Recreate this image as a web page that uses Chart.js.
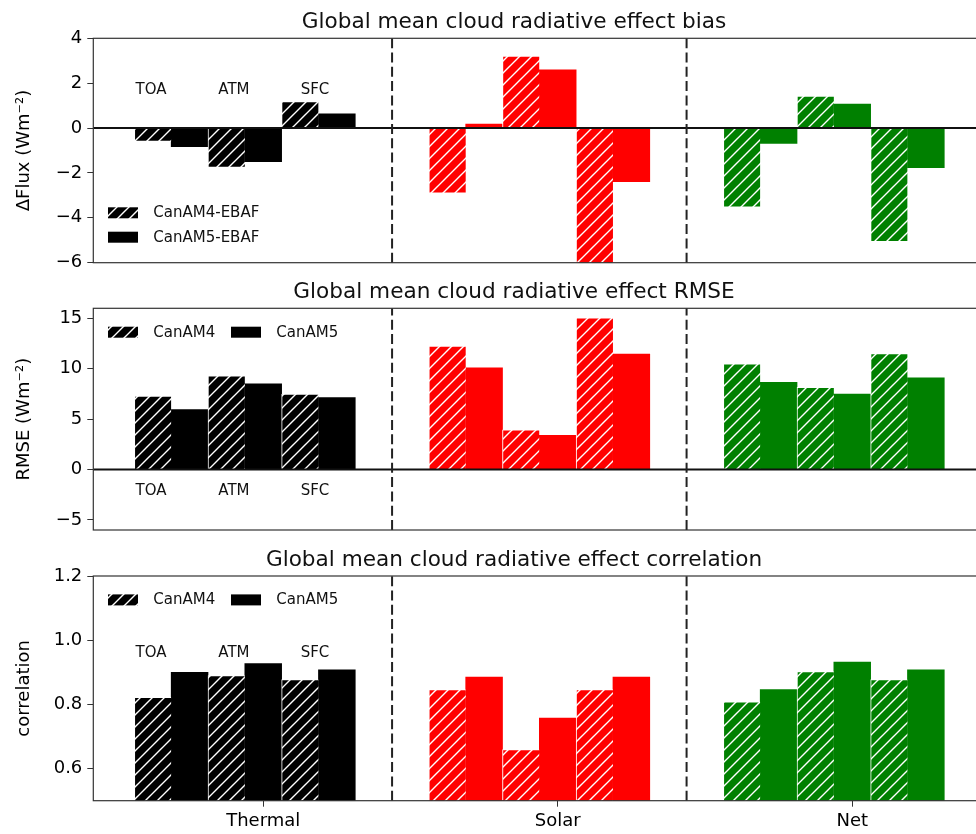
<!DOCTYPE html>
<html lang="en">
<head>
<meta charset="UTF-8" />
<title>Global mean cloud radiative effect</title>
<script src="https://cdn.jsdelivr.net/npm/chart.js"></script>
<style>
  body { margin: 0; background: #fff; }
  #wrap { position: relative; width: 976px; height: 834px; overflow: hidden; }
  #wrap canvas { position: absolute; left: 0; }
</style>
</head>
<body>
<div id="wrap">
  <canvas id="biasChart" width="1026" height="280" style="top:0"></canvas>
  <canvas id="rmseChart" width="1026" height="277" style="top:270px"></canvas>
  <canvas id="corrChart" width="1026" height="296" style="top:538px"></canvas>
</div>
<script>
const groups = ["Thermal", "Solar", "Net"];
const layers = ["TOA", "ATM", "SFC"];
const models = ["CanAM4", "CanAM5"];
const groupColors = ["#000000", "#ff0000", "#008000"];

// order: Thermal TOA/ATM/SFC, Solar TOA/ATM/SFC, Net TOA/ATM/SFC
const biasCanAM4 = [-0.6, -1.75, 1.18, -2.9, 3.21, -6.3, -3.53, 1.43, -5.06];
const biasCanAM5 = [-0.83, -1.5, 0.63, 0.18, 2.59, -2.39, -0.68, 1.07, -1.76];
const rmseCanAM4 = [7.3, 9.3, 7.5, 12.25, 3.95, 15.05, 10.5, 8.15, 11.5];
const rmseCanAM5 = [5.95, 8.5, 7.15, 10.1, 3.4, 11.45, 8.65, 7.5, 9.1];
const corrCanAM4 = [0.822, 0.89, 0.877, 0.846, 0.659, 0.846, 0.808, 0.902, 0.877];
const corrCanAM5 = [0.9, 0.927, 0.908, 0.885, 0.757, 0.885, 0.846, 0.932, 0.908];

const biasTicks = [-6, -4, -2, 0, 2, 4];
const rmseTicks = [-5, 0, 5, 10, 15];
const corrTicks = [0.6, 0.8, 1.0, 1.2];

Chart.defaults.font.family = "'DejaVu Sans', sans-serif";
Chart.defaults.font.size = 18;
Chart.defaults.color = "#000";

// x axis: group ticks at 0,1,2; each bar is 1/8 of a group
const xMin = -0.577, xMax = 2.5;
const slot = 1 / 8;
const dividerAt = 3.5 / 8;
const layerLabelX = [-0.381, -0.0995, 0.1756];
const titleX = 514;

function barX(i, m) {
  const g = Math.floor(i / 3), l = i % 3;
  return g + (2 * l + m - 3) * slot;
}

function hatch(ctx, color) {
  const p = 12;
  const c = document.createElement("canvas");
  c.width = p; c.height = p;
  const g = c.getContext("2d");
  g.fillStyle = color;
  g.fillRect(0, 0, p, p);
  g.strokeStyle = "#fff";
  g.lineWidth = 1.4;
  g.beginPath();
  g.moveTo(0, p); g.lineTo(p, 0);
  g.moveTo(-2, 2); g.lineTo(2, -2);
  g.moveTo(p - 2, p + 2); g.lineTo(p + 2, p - 2);
  g.stroke();
  return ctx.createPattern(c, "repeat");
}

const minus = v => (v < 0 ? "\u2212" + Math.abs(v) : String(v));

function makeChart(id, cfg) {
  const ctx = document.getElementById(id).getContext("2d");
  const patterns = groupColors.map(c => hatch(ctx, c));
  const datasets = [cfg.a, cfg.b].map((vals, m) => ({
    label: models[m] + cfg.suffix,
    data: vals.map((v, i) => ({ x: barX(i, m), y: v })),
    backgroundColor: vals.map((v, i) => m === 0 ? patterns[Math.floor(i / 3)] : groupColors[Math.floor(i / 3)]),
    borderColor: "#ffffff",
    borderWidth: m === 0 ? { left: 1, top: 1, bottom: 1, right: 0 } : 0,
    borderSkipped: "start",
    grouped: false,
    barPercentage: 1,
    categoryPercentage: 1,
  }));

  const decor = {
    id: "decor",
    afterDraw(chart) {
      const c = chart.ctx, a = chart.chartArea;
      const x = chart.scales.x, y = chart.scales.y;
      c.save();
      if (cfg.zeroLine) {
        const py = y.getPixelForValue(0);
        c.strokeStyle = "#111"; c.lineWidth = 2;
        c.beginPath(); c.moveTo(a.left, py); c.lineTo(a.right, py); c.stroke();
      }
      c.strokeStyle = "#222"; c.lineWidth = 2; c.setLineDash([10, 4.3]);
      [0, 1].forEach(g => {
        const px = x.getPixelForValue(g + dividerAt);
        c.beginPath(); c.moveTo(px, a.bottom); c.lineTo(px, a.top); c.stroke();
      });
      c.setLineDash([]);
      c.strokeStyle = "#333"; c.lineWidth = 1.2;
      c.strokeRect(a.left, a.top, a.right - a.left, a.bottom - a.top);

      c.fillStyle = "#111";
      c.font = "15px 'DejaVu Sans'";
      c.textAlign = "center"; c.textBaseline = "middle";
      layers.forEach((t, l) => c.fillText(t, x.getPixelForValue(layerLabelX[l]), y.getPixelForValue(cfg.layerY)));

      c.textAlign = "left";
      cfg.legendAt.forEach((pos, m) => {
        const sx = a.left + pos[0];
        const sy = pos[2] === "bottom" ? a.bottom - pos[1] : a.top + pos[1];
        c.fillStyle = m === 0 ? patterns[0] : "#000";
        c.fillRect(sx, sy, 30, 11);
        c.fillStyle = "#111";
        c.fillText(models[m] + cfg.suffix, sx + 45.3, sy + 6);
      });

      c.font = "21.6px 'DejaVu Sans'";
      c.textAlign = "center"; c.textBaseline = "alphabetic";
      c.fillText(cfg.title, titleX, a.top - 10);
      c.restore();
    },
  };

  return new Chart(ctx, {
    type: "bar",
    data: { datasets },
    options: {
      responsive: false,
      animation: false,
      events: [],
      layout: { padding: { top: cfg.padTop, bottom: cfg.padBottom, left: 0, right: 26.5 } },
      plugins: { legend: { display: false }, tooltip: { enabled: false } },
      scales: {
        x: {
          type: "linear", min: xMin, max: xMax, offset: false, display: cfg.showX,
          afterBuildTicks: s => { s.ticks = groups.map((_, g) => ({ value: g })); },
          afterFit: s => { s.height = cfg.showX ? 33.3 : 0; },
          ticks: { padding: 4, autoSkip: false, maxRotation: 0, callback: v => groups[v] },
          grid: { offset: false, drawOnChartArea: false, drawTicks: true, tickLength: 6, color: "#333" },
          border: { display: false },
        },
        y: {
          min: cfg.yMin, max: cfg.yMax,
          afterBuildTicks: s => { s.ticks = cfg.ticks.map(v => ({ value: v })); },
          afterFit: s => { s.width = 93.3; },
          ticks: { padding: 5, callback: cfg.fmt },
          grid: { drawOnChartArea: false, drawTicks: true, tickLength: 6, color: "#333" },
          border: { display: false },
          title: { display: true, text: cfg.yLabel, font: { size: 18 }, padding: { top: 14, bottom: 0 } },
        },
      },
    },
    plugins: [decor],
  });
}

makeChart("biasChart", {
  a: biasCanAM4, b: biasCanAM5, suffix: "-EBAF",
  yMin: -6, yMax: 4, ticks: biasTicks, fmt: minus,
  yLabel: "\u0394Flux (Wm\u207B\u00B2)",
  title: "Global mean cloud radiative effect bias",
  padTop: 38.3, padBottom: 17.3, showX: false, zeroLine: true, layerY: 1.7,
  legendAt: [[14.7, 55.4, "bottom"], [14.7, 31, "bottom"]],
});

makeChart("rmseChart", {
  a: rmseCanAM4, b: rmseCanAM5, suffix: "",
  yMin: -6, yMax: 16, ticks: rmseTicks, fmt: minus,
  yLabel: "RMSE (Wm\u207B\u00B2)",
  title: "Global mean cloud radiative effect RMSE",
  padTop: 38.3, padBottom: 17, showX: false, zeroLine: true, layerY: -2.15,
  legendAt: [[14.7, 18.4, "top"], [137.7, 18.4, "top"]],
});

makeChart("corrChart", {
  a: corrCanAM4, b: corrCanAM5, suffix: "",
  yMin: 0.5, yMax: 1.2, ticks: corrTicks, fmt: v => v.toFixed(1),
  yLabel: "correlation",
  title: "Global mean cloud radiative effect correlation",
  padTop: 38, padBottom: 0, showX: true, zeroLine: false, layerY: 0.96,
  legendAt: [[14.7, 18.4, "top"], [137.7, 18.4, "top"]],
});
</script>
</body>
</html>
